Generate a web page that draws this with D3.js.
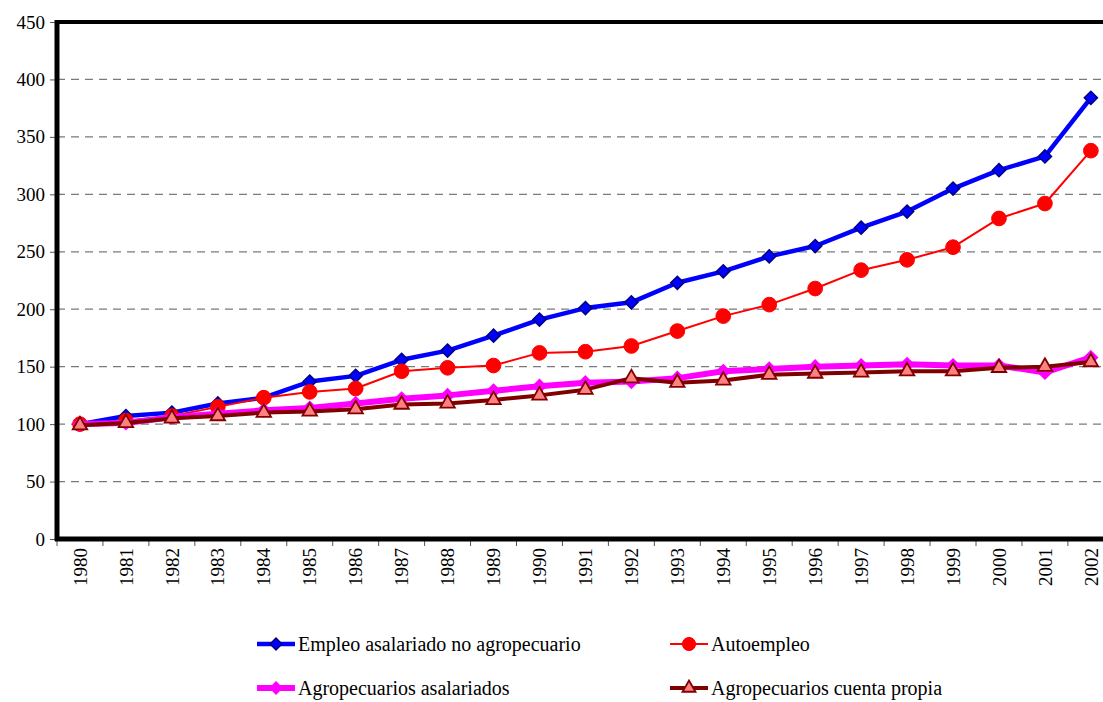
<!DOCTYPE html>
<html>
<head>
<meta charset="utf-8">
<script src="https://cdn.jsdelivr.net/npm/d3@7"></script>
<style>
  html, body { margin: 0; padding: 0; background: #fff; overflow: hidden; }
  svg, svg text { font-family: "Liberation Serif", "Times New Roman", Times, "DejaVu Serif", serif !important; }
</style>
</head>
<body>
<svg id="chart" width="1103" height="702"></svg>
<script>
const years = ["1980","1981","1982","1983","1984","1985","1986","1987","1988","1989","1990","1991","1992","1993","1994","1995","1996","1997","1998","1999","2000","2001","2002"];
const empleoAsalariado = [100,107,110,118,123,137,142,156,164,177,191,201,206,223,233,246,255,271,285,305,321,333,384];
const autoempleo = [100,103,107,115,123,128,131,146,149,151,162,163,168,181,194,204,218,234,243,254,279,292,338];
const agroAsalariados = [100,101,106,109,112,114,118,122,125,129,133,136,137,140,146,148,150,151,152,151,151,145,158];
const agroCuentaPropia = [99,101,105,107,110,111,113,117,118,121,125,130,140,136,138,143,144,145,146,146,149,150,154];
const yTicks = [0,50,100,150,200,250,300,350,400,450];
const seriesNames = ["Empleo asalariado no agropecuario","Autoempleo","Agropecuarios asalariados","Agropecuarios cuenta propia"];

const svg = d3.select("#chart");
const pLeft = 57, pTop = 22, pBottom = 539, pRight = 57 + 23 * 45.95;
const FONT = "'Liberation Serif', 'Times New Roman', Times, 'DejaVu Serif', serif";

const x = d3.scaleBand().domain(years).range([pLeft, pRight]);
const y = d3.scaleLinear().domain([0, 450]).range([pBottom, pTop]);
const cx = d => x(d) + x.bandwidth() / 2;

// gridlines
svg.append("g").selectAll("line").data(yTicks.filter(t => t > 0 && t < 450)).join("line")
  .attr("x1", pLeft).attr("x2", pRight)
  .attr("y1", d => y(d)).attr("y2", d => y(d))
  .attr("stroke", "#7a7a7a").attr("stroke-width", 1.2).attr("stroke-dasharray", "8,6");

// y axis
const yAxis = svg.append("g").attr("transform", `translate(${pLeft},0)`)
  .call(d3.axisLeft(y).tickValues(yTicks).tickSize(7).tickPadding(5));
yAxis.attr("font-family", null);
yAxis.select(".domain").remove();
yAxis.selectAll("line").attr("stroke", "#555");
yAxis.selectAll("text").attr("font-size", 19).attr("fill", "#000").style("font-family", FONT);

// x axis
const xAxis = svg.append("g").attr("transform", `translate(0,${pBottom})`)
  .call(d3.axisBottom(x).tickSize(0).tickPadding(8));
xAxis.attr("font-family", null);
xAxis.select(".domain").remove();
xAxis.selectAll("text")
  .attr("font-size", 19).attr("fill", "#000").style("font-family", FONT)
  .attr("transform", "rotate(-90)")
  .attr("text-anchor", "end")
  .attr("dy", "0.35em")
  .attr("y", 0).attr("x", -9);
// boundary ticks
svg.append("g").selectAll("line").data(years).join("line")
  .attr("x1", d => x(d)).attr("x2", d => x(d))
  .attr("y1", pBottom).attr("y2", pBottom + 7)
  .attr("stroke", "#555").attr("stroke-width", 1);

// frame
svg.append("line").attr("x1", pLeft - 2).attr("x2", pRight + 2).attr("y1", pTop).attr("y2", pTop).attr("stroke", "#000").attr("stroke-width", 4);
svg.append("line").attr("x1", pLeft - 2).attr("x2", pRight + 2).attr("y1", pBottom).attr("y2", pBottom).attr("stroke", "#000").attr("stroke-width", 5);
svg.append("line").attr("x1", pLeft).attr("x2", pLeft).attr("y1", pTop - 2).attr("y2", pBottom + 2).attr("stroke", "#000").attr("stroke-width", 5);
svg.append("line").attr("x1", pRight).attr("x2", pRight).attr("y1", pTop - 2).attr("y2", pBottom + 2).attr("stroke", "#000").attr("stroke-width", 5);

const line = d3.line().x((d, i) => cx(years[i])).y(d => y(d));

const styles = [
  { data: empleoAsalariado, stroke: "#0000ff", width: 4.5, symbol: d3.symbolDiamond2, size: 110, fill: "#0000ff", mstroke: "#000080", mwidth: 1.5 },
  { data: autoempleo, stroke: "#ff0000", width: 2, symbol: d3.symbolCircle, size: 170, fill: "#ff0000", mstroke: "#ff0000", mwidth: 1 },
  { data: agroAsalariados, stroke: "#ff00ff", width: 6, symbol: d3.symbolDiamond2, size: 110, fill: "#ff00ff", mstroke: "#ff00ff", mwidth: 1.5 },
  { data: agroCuentaPropia, stroke: "#800000", width: 4, symbol: d3.symbolTriangle2, size: 150, fill: "#ff8080", mstroke: "#800000", mwidth: 1.8 }
];

styles.forEach(s => {
  const g = svg.append("g");
  g.append("path").datum(s.data).attr("d", line)
    .attr("fill", "none").attr("stroke", s.stroke).attr("stroke-width", s.width).attr("stroke-linejoin", "round");
  g.selectAll("path.m").data(s.data).join("path").attr("class", "m")
    .attr("d", d3.symbol().type(s.symbol).size(s.size))
    .attr("transform", (d, i) => `translate(${cx(years[i])},${y(d)})`)
    .attr("fill", s.fill).attr("stroke", s.mstroke).attr("stroke-width", s.mwidth);
});

// legend
const legendPos = [[257, 644], [670, 644], [257, 688], [670, 688]];
styles.forEach((s, i) => {
  const [lx, ly] = legendPos[i];
  const g = svg.append("g").attr("transform", `translate(${lx},${ly})`);
  g.append("line").attr("x1", 0).attr("x2", 38).attr("y1", 0).attr("y2", 0)
    .attr("stroke", s.stroke).attr("stroke-width", s.width);
  g.append("path").attr("d", d3.symbol().type(s.symbol).size(s.size * 0.8))
    .attr("transform", "translate(19,0)")
    .attr("fill", s.fill).attr("stroke", s.mstroke).attr("stroke-width", s.mwidth);
  g.append("text").attr("x", 41).attr("y", 0).attr("dy", "0.35em")
    .attr("font-size", 20).attr("fill", "#000").style("font-family", FONT).text(seriesNames[i]);
});
</script>
</body>
</html>
